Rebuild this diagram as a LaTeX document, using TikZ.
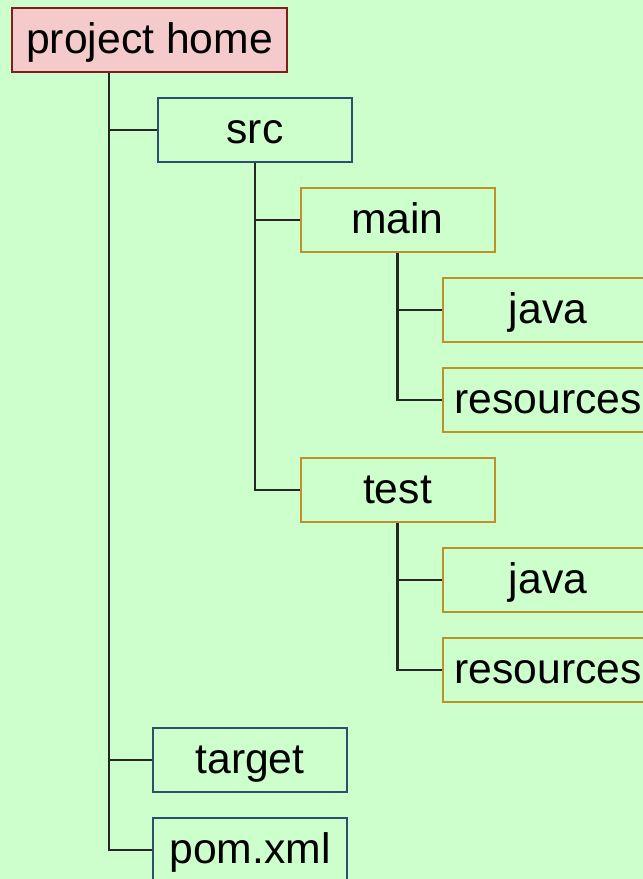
\documentclass[tikz,border=0pt]{standalone}
\usepackage{fontspec}
\setmainfont{Liberation Sans}
\definecolor{treebg}{RGB}{204,255,204}
\definecolor{homefill}{RGB}{244,202,202}
\definecolor{homeline}{RGB}{128,30,30}
\definecolor{dirline}{RGB}{44,78,112}
\definecolor{subline}{RGB}{190,145,40}
\begin{document}
\begin{tikzpicture}[x=0.75pt,y=-0.75pt]

%
% Styles
%
\tikzstyle{folder} = [rectangle,line width=1.5pt,minimum height=48pt,inner sep=0pt,
  font=\fontsize{32}{36}\selectfont,text height=23pt,text depth=3pt]
\tikzstyle{home} = [folder,draw=homeline,fill=homefill,minimum width=206pt]
\tikzstyle{dir} = [folder,draw=dirline,minimum width=145.5pt]
\tikzstyle{sub} = [folder,draw=subline,minimum width=145.5pt]
\tikzstyle{leaf} = [folder,draw=subline,minimum width=157.5pt]
\tikzstyle{branch} = [line width=1.8pt,black!85]

\useasboundingbox (0,0) rectangle (643,879);
\clip (0,0) rectangle (643,879);
\fill[treebg] (0,0) rectangle (643,879);

\node[home] (home)   at (149.5, 40) {project home};
\node[dir]  (src)    at (255, 130)  {src};
\node[sub]  (main)   at (397.5,220) {main};
\node[leaf] (mjava)  at (548, 310)  {java};
\node[leaf] (mres)   at (548, 400)  {resources};
\node[sub]  (test)   at (397.5,490) {test};
\node[leaf] (tjava)  at (548, 580)  {java};
\node[leaf] (tres)   at (548, 670)  {resources};
\node[dir]  (target) at (250, 760)  {target};
\node[dir]  (pom)    at (250, 850)  {pom.xml};

\draw[branch] ([xshift=73.5pt]home.south west) |- (src.west);
\draw[branch] ([xshift=73.5pt]home.south west) |- (target.west);
\draw[branch] ([xshift=73.5pt]home.south west) |- (pom.west);
\draw[branch] (src.south)  |- (main.west);
\draw[branch] (src.south)  |- (test.west);
\draw[branch] (main.south) |- (mjava.west);
\draw[branch] (main.south) |- (mres.west);
\draw[branch] (test.south) |- (tjava.west);
\draw[branch] (test.south) |- (tres.west);

\end{tikzpicture}
\end{document}
